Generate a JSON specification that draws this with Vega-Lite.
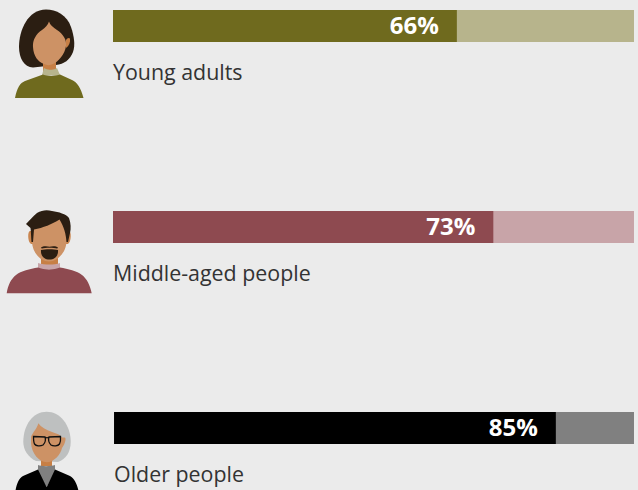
{
  "$schema": "https://vega.github.io/schema/vega-lite/v6.json",
  "autosize": {"type": "none"},
  "padding": 0,
  "width": 638,
  "height": 490,
  "background": "#EBEBEB",
  "config": {"view": {"stroke": null}},
  "datasets": {
    "groups": [
      {"group": "Young adults", "share": 0.66, "start": 0},
      {"group": "Middle-aged people", "share": 0.73, "start": 0},
      {"group": "Older people", "share": 0.85, "start": 0.002}
    ],
    "portraitParts": [
      {"group": "Young adults", "part": "y-hair"},
      {"group": "Young adults", "part": "y-neck"},
      {"group": "Young adults", "part": "y-ear"},
      {"group": "Young adults", "part": "y-face"},
      {"group": "Young adults", "part": "y-collar"},
      {"group": "Young adults", "part": "y-shirt"},
      {"group": "Middle-aged people", "part": "m-neck"},
      {"group": "Middle-aged people", "part": "m-ears"},
      {"group": "Middle-aged people", "part": "m-collar"},
      {"group": "Middle-aged people", "part": "m-shirt"},
      {"group": "Middle-aged people", "part": "m-face"},
      {"group": "Middle-aged people", "part": "m-hair"},
      {"group": "Middle-aged people", "part": "m-beard"},
      {"group": "Older people", "part": "o-hair"},
      {"group": "Older people", "part": "o-neck"},
      {"group": "Older people", "part": "o-collar"},
      {"group": "Older people", "part": "o-jacket"},
      {"group": "Older people", "part": "o-face"}
    ]
  },
  "encoding": {
    "y": {
      "field": "group",
      "type": "nominal",
      "axis": null,
      "scale": {
        "type": "point",
        "padding": 0,
        "domain": ["Young adults", "Middle-aged people", "Older people"],
        "range": [26, 428]
      }
    }
  },
  "layer": [
    {
      "data": {"name": "groups"},
      "mark": {"type": "bar", "height": 32},
      "encoding": {
        "x": {"field": "start", "type": "quantitative", "axis": null, "scale": {"domain": [-0.2169, 1.0077], "nice": false, "zero": false}},
        "x2": {"datum": 1},
        "color": {
          "field": "group",
          "type": "nominal",
          "legend": null,
          "scale": {"domain": ["Young adults", "Middle-aged people", "Older people"], "range": ["#B7B48C", "#C8A4A8", "#808080"]}
        }
      }
    },
    {
      "data": {"name": "groups"},
      "mark": {"type": "bar", "height": 32},
      "encoding": {
        "x": {"field": "start", "type": "quantitative", "axis": null, "scale": {"domain": [-0.2169, 1.0077], "nice": false, "zero": false}},
        "x2": {"field": "share"},
        "color": {
          "field": "group",
          "type": "nominal",
          "legend": null,
          "scale": {"domain": ["Young adults", "Middle-aged people", "Older people"], "range": ["#6F6A1E", "#8E4A50", "#000000"]}
        }
      }
    },
    {
      "data": {"name": "groups"},
      "mark": {"type": "text", "align": "right", "baseline": "middle", "dx": -18, "dy": 1, "font": "Open Sans", "fontSize": 24, "fontWeight": "bold", "color": "#FFFFFF"},
      "encoding": {
        "x": {"field": "share", "type": "quantitative", "axis": null},
        "text": {"field": "share", "type": "quantitative", "format": ".0%"}
      }
    },
    {
      "data": {"name": "groups"},
      "mark": {"type": "text", "align": "left", "baseline": "middle", "yOffset": 48, "font": "Open Sans", "fontSize": 21.4, "color": "#333333"},
      "encoding": {
        "x": {"field": "start", "type": "quantitative", "axis": null},
        "text": {"field": "group", "type": "nominal"}
      }
    },
    {
      "data": {"name": "portraitParts"},
      "mark": {"type": "point", "filled": true, "size": 4, "opacity": 1, "strokeWidth": 0, "yOffset": -26},
      "encoding": {
        "x": {"datum": -0.2169, "type": "quantitative", "axis": null},
        "color": {
          "field": "part",
          "type": "nominal",
          "legend": null,
          "scale": {
            "domain": ["y-hair","y-neck","y-ear","y-face","y-collar","y-shirt","m-neck","m-ears","m-collar","m-shirt","m-face","m-hair","m-beard","o-hair","o-neck","o-collar","o-jacket","o-face"],
            "range": ["#2B1E12","#C77F45","#C77F45","#CD9265","#B7B48C","#6F6A1E","#C77F45","#C9854F","#C8A4A8","#8E4A50","#CD9265","#2B1E12","#2B1E12","#BEC0C0","#C77F45","#808080","#000000","#CD9265"]
          }
        },
        "shape": {
          "field": "part",
          "type": "nominal",
          "legend": null,
          "scale": {
            "domain": ["y-hair","y-neck","y-ear","y-face","y-collar","y-shirt","m-neck","m-ears","m-collar","m-shirt","m-face","m-hair","m-beard","o-hair","o-neck","o-collar","o-jacket","o-face"],
            "range": [
              "M46 9.5C56 9.5 67 15 71 27C74 36 75.5 45 73 52C70 60 64 64 56 65L33 67.5C24 67 19 58 19 47C19 30 28 9.5 46 9.5Z",
              "M43 60L56 60L56 72L43 72Z",
              "M66 40C67 38 69.5 37 70 39C70.5 42 69 46 66 48Z",
              "M49 21.5C50 25 53 27 57 30C63 34 67 40 66 46C65 54 58 62 53 64C50 65.5 47 65.5 44 64C38 62 33.5 56 33 47C32.5 40 36 34 42 30C45 28 48 25 49 21.5Z",
              "M44 68L46 69C48 70 53 70 55 69L57 68L60 75L42 75Z",
              "M43 74.5C45 76 57 76 60 74.5L72 80C77 82 81 88 83.5 98L15 98C17 88 20 83 25 81Z",
              "M41 55L58 55L58 64L41 64Z",
              "M30 30C27.5 30 27.5 41 31 43L34 43L34 30ZM69 30C71.5 30 71.5 41 68 43L65 43L65 30Z",
              "M38 62C45 64 54 64 60 62L60 68.5L38 68.5Z",
              "M38 66.5C44 69 54 69 60 66.5C68 68 77 70 82 74C87 78 90 84 91.7 92.3L6.7 92.3C8 84 11 78 16 74C21 70 30 68 38 66.5Z",
              "M32 22L32 40C32 48 36 55 42 58.5C46 61 52 61 56 58.5C62 55 66.5 48 66.5 40L66.5 22L58 12L40 14Z",
              "M26 23C30 19 33 15 37 12C42 9 47 8.5 52 10C59 11 66 13 69 17C71 22 71 28 70 32L68 41L66.5 41C66 33 64 26 59.5 18.5C52 23 43 27 34 28.5L33 41L31.5 41C31 36 31 30 30.5 27Z",
              "M41 47C41 45 47 45 49.5 45.8C52 45 58 45 58 47L57 47.5C54 46.5 45 46.5 42 47.5ZM41 49C45 48 54 48 58 49C58.5 55 55 58.5 49.5 58.5C44 58.5 40.5 55 41 49Z",
              "M46.7 9.7C60 9.7 70.7 23 70.7 39.7C70.7 50 66 57 58 60L36 59C28 55 23.3 48 23.3 39.7C23.3 23 33 9.7 46.7 9.7Z",
              "M41 56L52 56L52 64L41 64Z",
              "M38 63C41 64.5 51 64.5 55 63L55 70L46.7 85.3L38 70Z",
              "M38 67.5L46.7 85.3L55 67.5L70 74C75 77 78 84 79 92L15 92C16 84 18 77 23 74Z",
              "M38.3 21.3C41 25 46 28 52 30C57 31.5 60.5 33 61.5 35C63 36.5 66 34 65.5 38C65 41 63.5 44 62 46C61 52 54 60.3 46.7 60.3C39 60.3 31.5 51 31 41.3L31 34.7C33 30 37 27 38.3 21.3Z"
            ]
          }
        }
      }
    },
    {
      "data": {"values": [{"group": "Older people"}]},
      "mark": {
        "type": "point",
        "filled": false,
        "size": 4,
        "opacity": 1,
        "color": "#111111",
        "strokeWidth": 1.3,
        "yOffset": -26,
        "shape": "M33.5 34.5L45 35C46 38 45 41 43 43C40 44.5 36 44 34.5 42C33.5 40 33.5 37 33.5 34.5ZM49 35L60.5 34.5C60.7 37 60.5 40 59.5 42C58 44 53.5 44.5 51 43C49 41 48 38 49 35ZM45 36C46.5 35.5 47.5 35.5 49 36"
      },
      "encoding": {
        "x": {"datum": -0.2169, "type": "quantitative", "axis": null}
      }
    }
  ],
  "resolve": {"scale": {"color": "independent"}}
}
